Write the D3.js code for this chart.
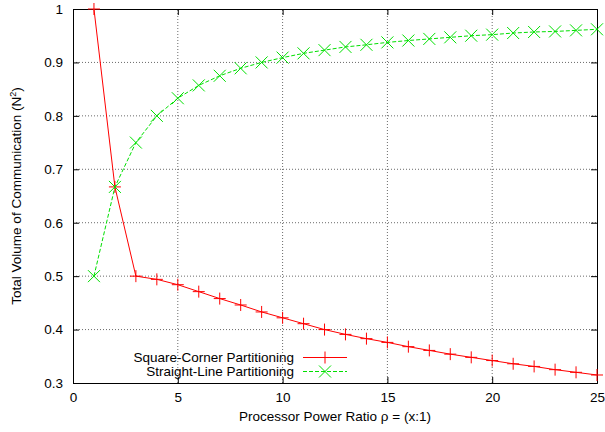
<!DOCTYPE html>
<html>
<head>
<meta charset="utf-8">
<script src="https://cdn.jsdelivr.net/npm/d3@7"></script>
<style>
body { margin: 0; background: #fff; }
svg { font-family: "Liberation Sans", Arial, sans-serif; }
.grid line { stroke: #444; stroke-width: 0.8; stroke-dasharray: 1,2; }
</style>
</head>
<body>
<svg width="605" height="432"></svg>
<script>
const ratios = [1, 2, 3, 4, 5, 6, 7, 8, 9, 10, 11, 12, 13, 14, 15, 16, 17, 18, 19, 20, 21, 22, 23, 24, 25];
const squareCorner = [1.0, 0.667, 0.5, 0.494, 0.484, 0.471, 0.458, 0.446, 0.433, 0.422, 0.411, 0.4, 0.391,
    0.383, 0.376, 0.368, 0.361, 0.354, 0.348, 0.342, 0.336, 0.331, 0.325, 0.32, 0.315];
const straightLine = [0.5, 0.667, 0.75, 0.8, 0.833, 0.857, 0.875, 0.889, 0.9, 0.909, 0.917, 0.923, 0.929,
    0.933, 0.9375, 0.941, 0.944, 0.947, 0.95, 0.952, 0.955, 0.957, 0.958, 0.96, 0.962];
const xTicks = [0, 5, 10, 15, 20, 25];
const yTicks = [0.3, 0.4, 0.5, 0.6, 0.7, 0.8, 0.9, 1];

const margin = {left: 73, right: 8, top: 9, bottom: 49};
const svg = d3.select('svg');
const width = 605, height = 432;
const fs = 13.5;
const x = d3.scaleLinear().domain([0, 25]).range([margin.left, width - margin.right]);
const y = d3.scaleLinear().domain([0.3, 1]).range([height - margin.bottom, margin.top]);

// grid
const grid = svg.append('g').attr('class', 'grid');
grid.selectAll('line.gx')
    .data(xTicks.slice(1, -1))
    .enter().append('line')
    .attr('x1', d => x(d)).attr('x2', d => x(d))
    .attr('y1', y(0.3)).attr('y2', y(1));
grid.selectAll('line.gy')
    .data(yTicks.slice(1, -1))
    .enter().append('line')
    .attr('y1', d => y(d)).attr('y2', d => y(d))
    .attr('x1', x(0)).attr('x2', x(25));

// axes, ticks inward, mirrored
const tick = 6;
svg.append('g').attr('transform', `translate(0,${y(0.3)})`)
    .call(d3.axisBottom(x).tickValues(xTicks).tickSize(-tick).tickPadding(9).tickFormat(d3.format('d')));
svg.append('g').attr('transform', `translate(0,${y(1)})`)
    .call(d3.axisTop(x).tickValues(xTicks).tickSize(-tick).tickFormat(''));
svg.append('g').attr('transform', `translate(${x(0)},0)`)
    .call(d3.axisLeft(y).tickValues(yTicks).tickSize(-tick).tickPadding(10).tickFormat(d => d === 1 ? '1' : d3.format('.1f')(d)));
svg.append('g').attr('transform', `translate(${x(25)},0)`)
    .call(d3.axisRight(y).tickValues(yTicks).tickSize(-tick).tickFormat(''));
svg.selectAll('.domain').attr('stroke', '#000').attr('stroke-width', 1);
svg.selectAll('.tick line').attr('stroke', '#000');
svg.selectAll('.tick text').attr('font-size', fs).attr('fill', '#000')
    .attr('font-family', '"Liberation Sans", Arial, sans-serif');

// labels
svg.append('text')
    .attr('x', x(12.5)).attr('y', 421)
    .attr('text-anchor', 'middle').attr('font-size', fs)
    .text('Processor Power Ratio ρ = (x:1)');
svg.append('text')
    .attr('transform', `translate(21,${y(0.65)}) rotate(-90)`)
    .attr('text-anchor', 'middle').attr('font-size', fs)
    .html('Total Volume of Communication (N<tspan dy="-5" font-size="9">2</tspan><tspan dy="5">)</tspan>');

const line = d3.line().x(d => x(d[0])).y(d => y(d[1]));
const sc = ratios.map((r, i) => [r, squareCorner[i]]);
const sl = ratios.map((r, i) => [r, straightLine[i]]);
const ms = 6;

function plus(g, pts, color) {
    g.selectAll('path.m').data(pts).enter().append('path')
        .attr('d', d => `M${x(d[0]) - ms},${y(d[1])}h${2 * ms}M${x(d[0])},${y(d[1]) - ms}v${2 * ms}`)
        .attr('stroke', color).attr('stroke-width', 1).attr('fill', 'none');
}
function cross(g, pts, color) {
    g.selectAll('path.m').data(pts).enter().append('path')
        .attr('d', d => `M${x(d[0]) - ms},${y(d[1]) - ms}l${2 * ms},${2 * ms}M${x(d[0]) - ms},${y(d[1]) + ms}l${2 * ms},${-2 * ms}`)
        .attr('stroke', color).attr('stroke-width', 1).attr('fill', 'none');
}

const red = '#ff0000', green = '#00e000';
const g1 = svg.append('g');
g1.append('path').datum(sc).attr('d', line).attr('fill', 'none').attr('stroke', red).attr('stroke-width', 1);
plus(g1, sc, red);
const g2 = svg.append('g');
g2.append('path').datum(sl).attr('d', line).attr('fill', 'none').attr('stroke', green)
    .attr('stroke-width', 1).attr('stroke-dasharray', '4,2');
cross(g2, sl, green);

// legend
const legend = [
    {name: 'Square-Corner Partitioning', color: red, dash: null, mark: plus},
    {name: 'Straight-Line Partitioning', color: green, dash: '4,2', mark: cross}
];
legend.forEach((l, i) => {
    const ly = 357.5 + i * 14;
    svg.append('text').attr('x', 294).attr('y', ly + 4.5).attr('text-anchor', 'end').attr('font-size', fs).text(l.name);
    svg.append('line').attr('x1', 303).attr('x2', 347).attr('y1', ly).attr('y2', ly)
        .attr('stroke', l.color).attr('stroke-dasharray', l.dash);
    const lg = svg.append('g');
    lg.selectAll('path.m').data([[0, 0]]).enter().append('path')
        .attr('d', l.mark === plus
            ? `M${325 - ms},${ly}h${2 * ms}M325,${ly - ms}v${2 * ms}`
            : `M${325 - ms},${ly - ms}l${2 * ms},${2 * ms}M${325 - ms},${ly + ms}l${2 * ms},${-2 * ms}`)
        .attr('stroke', l.color).attr('fill', 'none');
});
</script>
</body>
</html>
